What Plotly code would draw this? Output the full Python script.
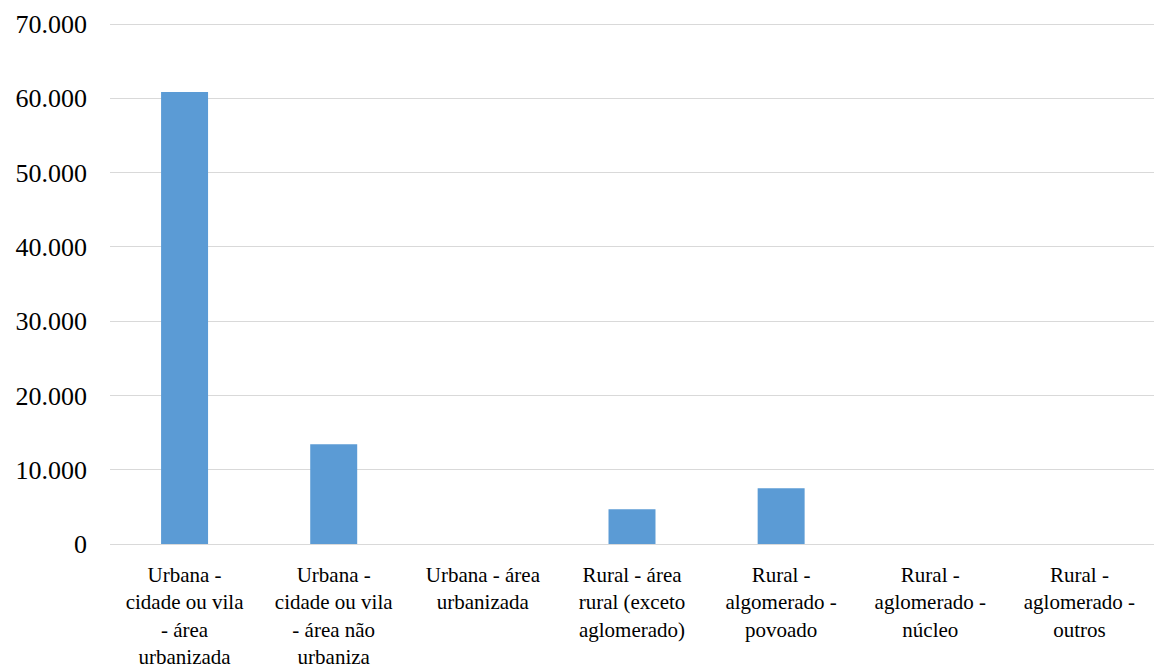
import plotly.graph_objects as go

# Domicílios por situação do setor censitário
categorias = [
    "Urbana -<br>cidade ou vila<br>- área<br>urbanizada",
    "Urbana -<br>cidade ou vila<br>- área não<br>urbaniza",
    "Urbana - área<br>urbanizada",
    "Rural - área<br>rural (exceto<br>aglomerado)",
    "Rural -<br>algomerado -<br>povoado",
    "Rural -<br>aglomerado -<br>núcleo",
    "Rural -<br>aglomerado -<br>outros",
]
valores = [60850, 13420, 0, 4670, 7500, 0, 0]

tick_vals = [0, 10000, 20000, 30000, 40000, 50000, 60000, 70000]
tick_text = ["0", "10.000", "20.000", "30.000", "40.000", "50.000", "60.000", "70.000"]

serif = "Times New Roman, Liberation Serif, DejaVu Serif, serif"

fig = go.Figure(
    go.Bar(
        x=categorias,
        y=valores,
        marker=dict(color="#5B9BD5", line=dict(width=0)),
    )
)

fig.update_layout(
    width=1154,
    height=670,
    margin=dict(l=110, r=0, t=23, b=126, autoexpand=False),
    paper_bgcolor="white",
    plot_bgcolor="white",
    bargap=0.685,
    showlegend=False,
    font=dict(family=serif, color="#000000", size=21),
)

fig.update_xaxes(
    showgrid=False,
    showline=False,
    ticks="",
    tickfont=dict(family=serif, size=21),
    tickangle=0,
    ticklabelstandoff=16,
    automargin=False,
)

fig.update_yaxes(
    range=[0, 70150],
    tickvals=tick_vals,
    ticktext=tick_text,
    showgrid=True,
    gridcolor="#d9d9d9",
    gridwidth=1,
    zeroline=True,
    zerolinecolor="#d9d9d9",
    zerolinewidth=1,
    showline=False,
    ticks="",
    ticklabelstandoff=22,
    tickfont=dict(family=serif, size=26),
    automargin=False,
)

fig.write_html("out.html")
